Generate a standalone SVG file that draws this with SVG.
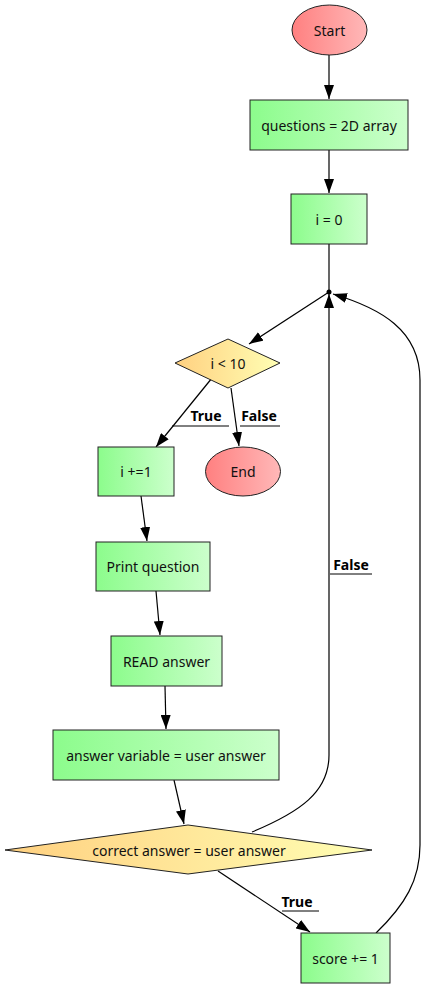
<svg xmlns="http://www.w3.org/2000/svg" width="433" height="996" viewBox="0 0 433 996">
<defs>
<linearGradient id="gGreen" x1="0" y1="0" x2="1" y2="0"><stop offset="0" stop-color="#8cfc8c"/><stop offset="1" stop-color="#ccffcc"/></linearGradient>
<linearGradient id="gRed" x1="0" y1="0" x2="1" y2="0"><stop offset="0" stop-color="#ff8080"/><stop offset="1" stop-color="#ffb8b8"/></linearGradient>
<linearGradient id="gYel" x1="0" y1="0" x2="1" y2="0"><stop offset="0" stop-color="#ffd080"/><stop offset="1" stop-color="#ffffb4"/></linearGradient>
<marker id="arr" viewBox="0 0 14 10" refX="14" refY="5" markerWidth="14" markerHeight="10" markerUnits="userSpaceOnUse" orient="auto"><path d="M0,0 L14,5 L0,10 z" fill="#000"/></marker>
</defs>
<style>
.box{fill:url(#gGreen);stroke:#222;stroke-width:1}
.term{fill:url(#gRed);stroke:#222;stroke-width:1}
.dec{fill:url(#gYel);stroke:#222;stroke-width:1}
.t{font-family:"Noto Sans","Open Sans",sans-serif;font-size:14px;fill:#111;text-anchor:middle;dominant-baseline:central}
.lbl{font-family:"Noto Sans","Open Sans",sans-serif;font-size:14px;font-weight:bold;fill:#000;text-anchor:middle}
.e{fill:none;stroke:#000;stroke-width:1.2}
.u{stroke:#000;stroke-width:1}
</style>
<g id="connectors">
<path class="e" d="M329,55 L329,99" marker-end="url(#arr)"/>
<path class="e" d="M329,150 L329,193" marker-end="url(#arr)"/>
<path class="e" d="M329,244 L329,290"/>
<circle cx="329" cy="292" r="2.5" fill="#000"/>
<path class="e" d="M329,292 L249,344" marker-end="url(#arr)"/>
<path class="e" d="M212,378 L156,447" marker-end="url(#arr)"/>
<path class="e" d="M231,388 L239,446" marker-end="url(#arr)"/>
<path class="e" d="M141,496 L147,541" marker-end="url(#arr)"/>
<path class="e" d="M156,591 L160,635" marker-end="url(#arr)"/>
<path class="e" d="M165,686 L166,729" marker-end="url(#arr)"/>
<path class="e" d="M174,780 L184,824" marker-end="url(#arr)"/>
<path class="e" d="M218,871 L310,932" marker-end="url(#arr)"/>
<path class="e" d="M252,832 C300,812 329,792 329,755 L329,294" marker-end="url(#arr)"/>
<path class="e" d="M376,933 C405,905 420,880 420,845 L420,380 C420,330 380,308 333,294" marker-end="url(#arr)"/>
<text class="lbl" x="206" y="421">True</text>
<line class="u" x1="172" y1="426" x2="229" y2="426"/>
<text class="lbl" x="259" y="421">False</text>
<line class="u" x1="240" y1="426" x2="280" y2="426"/>
<text class="lbl" x="351" y="570">False</text>
<line class="u" x1="330" y1="574" x2="372" y2="574"/>
<text class="lbl" x="297" y="907">True</text>
<line class="u" x1="282" y1="911" x2="319" y2="911"/>
</g>
<g id="start"><ellipse class="term" cx="329.5" cy="30" rx="37.5" ry="25"/><text class="t" x="329.5" y="30">Start</text></g>
<g id="questions"><rect class="box" x="250" y="100" width="158" height="50"/><text class="t" x="329" y="125">questions = 2D array</text></g>
<g id="i0"><rect class="box" x="291" y="194" width="76" height="50"/><text class="t" x="329" y="219">i = 0</text></g>
<g id="cond1"><polygon class="dec" points="175,363 228,339 280,363 228,388"/><text class="t" x="228" y="363">i &lt; 10</text></g>
<g id="inc"><rect class="box" x="98" y="447" width="76" height="49"/><text class="t" x="136" y="471">i +=1</text></g>
<g id="end"><ellipse class="term" cx="243" cy="471.5" rx="37.5" ry="24.5"/><text class="t" x="243" y="471.5">End</text></g>
<g id="print"><rect class="box" x="96" y="542" width="114" height="49"/><text class="t" x="153" y="566">Print question</text></g>
<g id="read"><rect class="box" x="111" y="636" width="111" height="50"/><text class="t" x="166.5" y="661">READ answer</text></g>
<g id="assign"><rect class="box" x="53" y="730" width="226" height="50"/><text class="t" x="166" y="755">answer variable = user answer</text></g>
<g id="cond2"><polygon class="dec" points="5,850 188,825 372,850 188,874"/><text class="t" x="189" y="850">correct answer = user answer</text></g>
<g id="score"><rect class="box" x="301" y="933" width="89" height="50"/><text class="t" x="345.5" y="958">score += 1</text></g>
</svg>
